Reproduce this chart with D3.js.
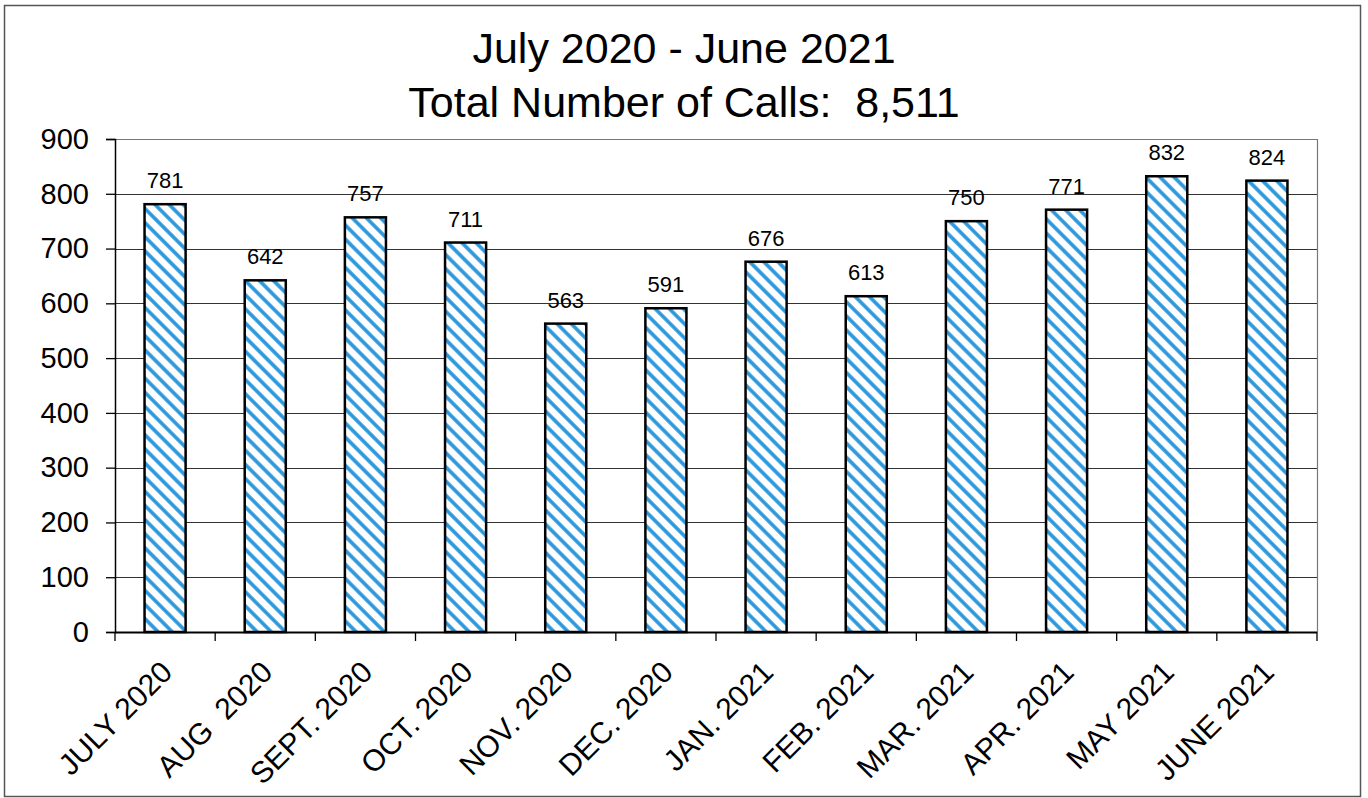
<!doctype html>
<html>
  <head>
    <meta charset="utf-8">
    <title>Total Number of Calls</title>
    <script src="https://cdnjs.cloudflare.com/ajax/libs/d3/7.8.5/d3.min.js"></script>
    <style>
      body { margin: 0; background: #fff; }
      text { font-family: "Liberation Sans", Arial, sans-serif; fill: #000; }
    </style>
  </head>
  <body>
    <div id="chart"></div>
    <script>
      // Data
      const months = ['JULY 2020', 'AUG  2020', 'SEPT. 2020', 'OCT. 2020', 'NOV. 2020', 'DEC. 2020',
                      'JAN. 2021', 'FEB. 2021', 'MAR. 2021', 'APR. 2021', 'MAY 2021', 'JUNE 2021'];
      const calls = [781, 642, 757, 711, 563, 591, 676, 613, 750, 771, 832, 824];
      const yTicks = [0, 100, 200, 300, 400, 500, 600, 700, 800, 900];
      const titleLines = ['July 2020 - June 2021', 'Total Number of Calls:  8,511'];

      const W = 1368, H = 798;
      const plot = { left: 115, right: 1317, top: 139, bottom: 632 };

      const svg = d3.select('#chart').append('svg')
        .attr('width', W)
        .attr('height', H);

      // hatch pattern for bars
      const pat = svg.append('defs').append('pattern')
        .attr('id', 'hatch')
        .attr('patternUnits', 'userSpaceOnUse')
        .attr('width', 10)
        .attr('height', 10)
        .attr('patternTransform', 'rotate(45)');
      pat.append('rect').attr('width', 10).attr('height', 10).attr('fill', '#fff');
      pat.append('line')
        .attr('x1', 0).attr('x2', 10).attr('y1', 5).attr('y2', 5)
        .attr('stroke', '#2a97dc').attr('stroke-width', 3.6);

      // outer frame
      svg.append('rect')
        .attr('x', 4.5).attr('y', 5.5)
        .attr('width', 1356).attr('height', 791)
        .attr('fill', 'none')
        .attr('stroke', '#555')
        .attr('stroke-width', 1.5);

      // title
      svg.selectAll('text.title')
        .data(titleLines)
        .join('text')
        .attr('class', 'title')
        .attr('x', 684)
        .attr('y', (d, i) => 63 + i * 54)
        .attr('text-anchor', 'middle')
        .attr('font-size', '43px')
        .style('white-space', 'pre')
        .text(d => d);

      // scales
      const x = d3.scaleBand()
        .domain(months)
        .range([plot.left, plot.right])
        .paddingInner(0.59)
        .paddingOuter(0.295);

      const y = d3.scaleLinear()
        .domain([0, 900])
        .range([plot.bottom, plot.top]);

      // gridlines
      svg.append('g')
        .selectAll('line')
        .data(yTicks.filter(d => d > 0))
        .join('line')
        .attr('x1', plot.left)
        .attr('x2', plot.right)
        .attr('y1', d => Math.round(y(d)) + 0.5)
        .attr('y2', d => Math.round(y(d)) + 0.5)
        .attr('stroke', d => d === 900 ? '#777' : '#333')
        .attr('stroke-width', 1.2);

      // right border of plot area
      svg.append('line')
        .attr('x1', plot.right + 0.5).attr('x2', plot.right + 0.5)
        .attr('y1', plot.top).attr('y2', plot.bottom)
        .attr('stroke', '#777')
        .attr('stroke-width', 1.2);

      // y axis
      const yAxis = svg.append('g')
        .attr('transform', `translate(${plot.left},0)`)
        .call(d3.axisLeft(y).tickValues(yTicks).tickSize(9).tickPadding(17));
      yAxis.select('.domain').attr('stroke', '#000').attr('stroke-width', 1.5);
      yAxis.selectAll('.tick line').attr('stroke', '#000').attr('stroke-width', 1.3);
      yAxis.selectAll('.tick text')
        .attr('font-size', '29px')
        .attr('font-family', '"Liberation Sans", Arial, sans-serif')
        .attr('fill', '#000');

      // bars
      svg.append('g')
        .selectAll('rect')
        .data(calls)
        .join('rect')
        .attr('x', (d, i) => x(months[i]))
        .attr('y', d => y(d))
        .attr('width', x.bandwidth())
        .attr('height', d => y(0) - y(d))
        .attr('fill', 'url(#hatch)')
        .attr('stroke', '#000')
        .attr('stroke-width', 2.5);

      // value labels
      svg.append('g')
        .selectAll('text')
        .data(calls)
        .join('text')
        .attr('x', (d, i) => x(months[i]) + x.bandwidth() / 2)
        .attr('y', d => y(d) - 16)
        .attr('text-anchor', 'middle')
        .attr('font-size', '22px')
        .text(d => d);

      // x axis
      const xAxis = svg.append('g')
        .attr('transform', `translate(0,${plot.bottom})`);
      xAxis.append('line')
        .attr('x1', plot.left).attr('x2', plot.right)
        .attr('y1', 0.5).attr('y2', 0.5)
        .attr('stroke', '#000').attr('stroke-width', 2);
      const step = x.step();
      xAxis.selectAll('line.tick')
        .data(d3.range(months.length + 1))
        .join('line')
        .attr('class', 'tick')
        .attr('x1', i => plot.left + i * step)
        .attr('x2', i => plot.left + i * step)
        .attr('y1', 0).attr('y2', 9)
        .attr('stroke', '#000').attr('stroke-width', 1.3);
      xAxis.selectAll('text')
        .data(months)
        .join('text')
        .attr('transform', d => `translate(${x(d) + x.bandwidth() / 2 + 9},42) rotate(-45)`)
        .attr('text-anchor', 'end')
        .attr('font-size', '30px')
        .style('white-space', 'pre')
        .text(d => d);
    </script>
  </body>
</html>
